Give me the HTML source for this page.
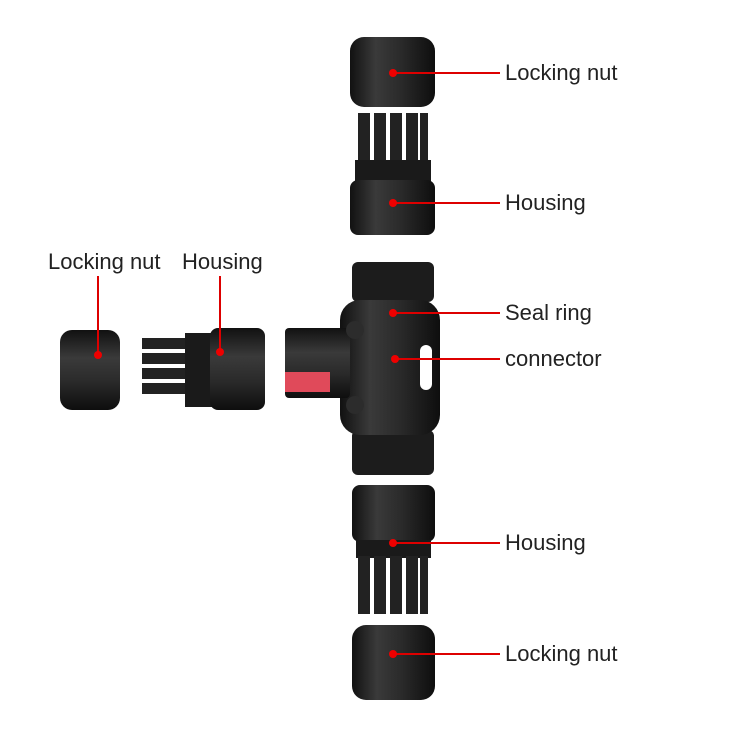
<!DOCTYPE html>
<html><head><style>
body{margin:0;background:#fff;width:750px;height:750px;overflow:hidden;position:relative;font-family:"Liberation Sans",sans-serif}
.t{position:absolute;font-size:22px;color:#222;white-space:nowrap}
</style></head><body>
<svg width="750" height="750" style="position:absolute;left:0;top:0">
<defs>
<linearGradient id="g" x1="0" x2="1"><stop offset="0" stop-color="#111"/><stop offset=".3" stop-color="#3a3a3a"/><stop offset=".6" stop-color="#2a2a2a"/><stop offset="1" stop-color="#0e0e0e"/></linearGradient>
<linearGradient id="gv" x1="0" y1="0" x2="0" y2="1"><stop offset="0" stop-color="#111"/><stop offset=".35" stop-color="#3a3a3a"/><stop offset=".65" stop-color="#2a2a2a"/><stop offset="1" stop-color="#0e0e0e"/></linearGradient>
</defs>
<rect x="350" y="37" width="85" height="70" rx="14" fill="url(#g)"/>
<g fill="#222"><rect x="358" y="113" width="12" height="55"/><rect x="374" y="113" width="12" height="55"/><rect x="390" y="113" width="12" height="55"/><rect x="406" y="113" width="12" height="55"/><rect x="420" y="113" width="8" height="55"/></g>
<rect x="355" y="160" width="76" height="22" fill="#1a1a1a"/>
<rect x="350" y="180" width="85" height="55" rx="8" fill="url(#g)"/>
<rect x="352" y="262" width="82" height="40" rx="6" fill="#1c1c1c"/>
<rect x="352" y="430" width="82" height="45" rx="6" fill="#1c1c1c"/>
<rect x="340" y="300" width="100" height="135" rx="20" fill="url(#g)"/>
<rect x="285" y="328" width="65" height="70" rx="4" fill="url(#gv)"/>
<rect x="285" y="372" width="45" height="20" fill="#e04a5a"/>
<circle cx="355" cy="330" r="9" fill="#2c2c2c"/><circle cx="355" cy="405" r="9" fill="#2c2c2c"/>
<rect x="420" y="345" width="12" height="45" rx="6" fill="#fff"/>
<rect x="352" y="485" width="83" height="57" rx="8" fill="url(#g)"/>
<rect x="356" y="540" width="75" height="18" fill="#1a1a1a"/>
<g fill="#222"><rect x="358" y="556" width="12" height="58"/><rect x="374" y="556" width="12" height="58"/><rect x="390" y="556" width="12" height="58"/><rect x="406" y="556" width="12" height="58"/><rect x="420" y="556" width="8" height="58"/></g>
<rect x="352" y="625" width="83" height="75" rx="14" fill="url(#g)"/>
<rect x="60" y="330" width="60" height="80" rx="12" fill="url(#gv)"/>
<g fill="#222"><rect x="142" y="338" width="55" height="11"/><rect x="142" y="353" width="55" height="11"/><rect x="142" y="368" width="55" height="11"/><rect x="142" y="383" width="55" height="11"/></g>
<rect x="185" y="333" width="28" height="74" fill="#1a1a1a"/>
<rect x="210" y="328" width="55" height="82" rx="8" fill="url(#gv)"/>
<g stroke="#d00" stroke-width="2">
<line x1="393" y1="73" x2="500" y2="73"/><line x1="393" y1="203" x2="500" y2="203"/>
<line x1="393" y1="313" x2="500" y2="313"/><line x1="395" y1="359" x2="500" y2="359"/>
<line x1="393" y1="543" x2="500" y2="543"/><line x1="393" y1="654" x2="500" y2="654"/>
<line x1="98" y1="276" x2="98" y2="355"/><line x1="220" y1="276" x2="220" y2="352"/>
</g>
<g fill="#e00"><circle cx="393" cy="73" r="4"/><circle cx="393" cy="203" r="4"/><circle cx="393" cy="313" r="4"/><circle cx="395" cy="359" r="4"/><circle cx="393" cy="543" r="4"/><circle cx="393" cy="654" r="4"/><circle cx="98" cy="355" r="4"/><circle cx="220" cy="352" r="4"/></g>
</svg>
<div class="t" style="left:505px;top:60px">Locking nut</div>
<div class="t" style="left:505px;top:190px">Housing</div>
<div class="t" style="left:505px;top:300px">Seal ring</div>
<div class="t" style="left:505px;top:346px">connector</div>
<div class="t" style="left:505px;top:530px">Housing</div>
<div class="t" style="left:505px;top:641px">Locking nut</div>
<div class="t" style="left:48px;top:249px">Locking nut</div>
<div class="t" style="left:182px;top:249px">Housing</div>
</body></html>
